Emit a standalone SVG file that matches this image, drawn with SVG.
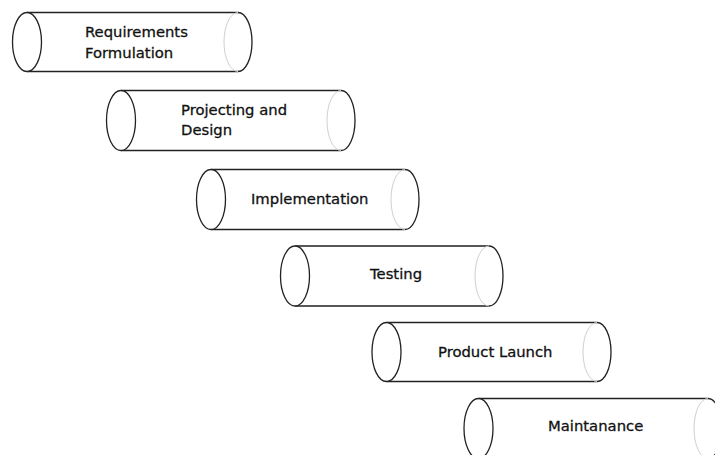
<svg xmlns="http://www.w3.org/2000/svg" width="715" height="455" viewBox="0 0 715 455">
<style>
.body{fill:#ffffff;stroke:none}
.edge{fill:none;stroke:#222222;stroke-width:1.3}
.cap{fill:#ffffff;stroke:#222222;stroke-width:1.3}
.inner{fill:none;stroke:#cfcfcf;stroke-width:1}
.lbl{font-family:"DejaVu Sans",sans-serif;font-size:14.8px;fill:#111111;stroke:#111111;stroke-width:0.3}
</style>
<rect width="715" height="455" fill="#ffffff"/>
<g id="requirements">
<path class="edge" d="M27,12.5 L238,12.5 M27,71.5 L238,71.5"/>
<ellipse class="cap" cx="27" cy="42" rx="14.5" ry="29.5"/>
<path class="inner" d="M238,12.5 A14,29.5 0 0 0 238,71.5"/>
<path class="edge" d="M238,12.5 A14,29.5 0 0 1 238,71.5"/>
<text class="lbl" x="85" y="37">Requirements</text>
<text class="lbl" x="85" y="57.5">Formulation</text>
</g>
<g id="design">
<path class="edge" d="M121,90.5 L341,90.5 M121,150.5 L341,150.5"/>
<ellipse class="cap" cx="121" cy="120.5" rx="14.5" ry="30"/>
<path class="inner" d="M341,90.5 A14,30 0 0 0 341,150.5"/>
<path class="edge" d="M341,90.5 A14,30 0 0 1 341,150.5"/>
<text class="lbl" x="181" y="114.5">Projecting and</text>
<text class="lbl" x="181" y="135">Design</text>
</g>
<g id="implementation">
<path class="edge" d="M211,169.5 L405,169.5 M211,229.5 L405,229.5"/>
<ellipse class="cap" cx="211" cy="199.5" rx="14.5" ry="30"/>
<path class="inner" d="M405,169.5 A14,30 0 0 0 405,229.5"/>
<path class="edge" d="M405,169.5 A14,30 0 0 1 405,229.5"/>
<text class="lbl" x="251" y="204">Implementation</text>
</g>
<g id="testing">
<path class="edge" d="M295,246 L489,246 M295,306 L489,306"/>
<ellipse class="cap" cx="295" cy="276" rx="14.5" ry="30"/>
<path class="inner" d="M489,246 A14,30 0 0 0 489,306"/>
<path class="edge" d="M489,246 A14,30 0 0 1 489,306"/>
<text class="lbl" x="370" y="279">Testing</text>
</g>
<g id="launch">
<path class="edge" d="M386.5,322.5 L597,322.5 M386.5,381.5 L597,381.5"/>
<ellipse class="cap" cx="386.5" cy="352" rx="14.5" ry="29.5"/>
<path class="inner" d="M597,322.5 A14,29.5 0 0 0 597,381.5"/>
<path class="edge" d="M597,322.5 A14,29.5 0 0 1 597,381.5"/>
<text class="lbl" x="438" y="357">Product Launch</text>
</g>
<g id="maintenance">
<path class="edge" d="M478.5,398.5 L708,398.5 M478.5,458.5 L708,458.5"/>
<ellipse class="cap" cx="478.5" cy="428.5" rx="14.5" ry="30"/>
<path class="inner" d="M708,398.5 A14,30 0 0 0 708,458.5"/>
<path class="edge" d="M708,398.5 A14,30 0 0 1 708,458.5"/>
<text class="lbl" x="548" y="430.5">Maintanance</text>
</g>
<g id="connectors"></g>
</svg>
